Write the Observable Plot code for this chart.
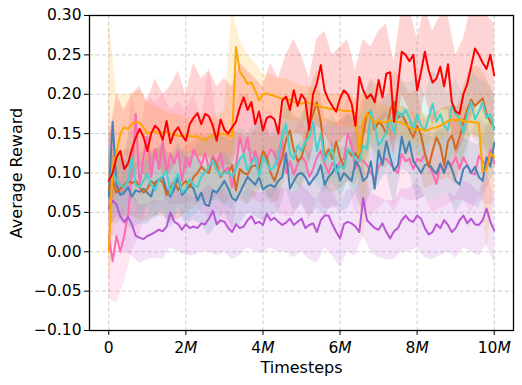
<!DOCTYPE html>
<html>
<head>
<meta charset="utf-8">
<script src="https://cdn.jsdelivr.net/npm/d3@7"></script>
<script src="https://cdn.jsdelivr.net/npm/@observablehq/plot@0.6"></script>
<style>
  html, body { margin: 0; padding: 0; background: #fff; }
  #chart { width: 522px; height: 385px; }
</style>
</head>
<body>
<div id="chart"></div>
<script>
// Timesteps (millions) for the mean curves
const steps = [0,0.1,0.2,0.3,0.4,0.5,0.6,0.7,0.8,0.9,1,1.1,1.2,1.3,1.4,1.5,1.6,1.7,1.8,1.9,2,2.1,2.2,2.3,2.4,2.5,2.6,2.7,2.8,2.9,3,3.1,3.2,3.3,3.4,3.5,3.6,3.7,3.8,3.9,4,4.1,4.2,4.3,4.4,4.5,4.6,4.7,4.8,4.9,5,5.1,5.2,5.3,5.4,5.5,5.6,5.7,5.8,5.9,6,6.1,6.2,6.3,6.4,6.5,6.6,6.7,6.8,6.9,7,7.1,7.2,7.3,7.4,7.5,7.6,7.7,7.8,7.9,8,8.1,8.2,8.3,8.4,8.5,8.6,8.7,8.8,8.9,9,9.1,9.2,9.3,9.4,9.5,9.6,9.7,9.8,9.9,10];
// Timesteps (millions) for the shaded bands
const bandSteps = [0,0.2,0.4,0.6,0.8,1,1.2,1.4,1.6,1.8,2,2.2,2.4,2.6,2.8,3,3.2,3.4,3.6,3.8,4,4.2,4.4,4.6,4.8,5,5.2,5.4,5.6,5.8,6,6.2,6.4,6.6,6.8,7,7.2,7.4,7.6,7.8,8,8.2,8.4,8.6,8.8,9,9.2,9.4,9.6,9.8,10];

const xTicks = [0, 2, 4, 6, 8, 10];
const yTicks = [-0.10, -0.05, 0.00, 0.05, 0.10, 0.15, 0.20, 0.25, 0.30];

// series keys (not colour words, so Plot maps them through the colour scale)
const seriesNames  = ["S-pink", "S-blue", "S-brown", "S-teal", "S-purple", "S-orange", "S-red"];
const seriesColors = ["#ff69b4", "#4682b4", "#d2691e", "#48d1cc", "#ba55d3", "#ffa500", "#ff0000"];

const redMean = [0.09,0.10,0.12,0.128,0.105,0.112,0.13,0.145,0.156,0.146,
0.128,0.15,0.16,0.155,0.142,0.166,0.138,0.152,0.158,0.148,
0.141,0.162,0.17,0.176,0.162,0.175,0.172,0.16,0.141,0.168,
0.155,0.15,0.158,0.165,0.183,0.196,0.18,0.19,0.162,0.178,
0.154,0.17,0.172,0.168,0.15,0.192,0.197,0.18,0.205,0.185,
0.2,0.193,0.155,0.2,0.214,0.237,0.205,0.193,0.185,0.178,
0.195,0.205,0.2,0.188,0.16,0.222,0.205,0.195,0.2,0.19,
0.218,0.196,0.226,0.228,0.165,0.21,0.254,0.25,0.242,0.25,
0.205,0.228,0.254,0.23,0.215,0.22,0.235,0.21,0.238,0.19,
0.178,0.175,0.2,0.213,0.235,0.258,0.25,0.24,0.232,0.25,
0.224];
const redLo = [0.05,0.08,0.07,0.09,0.11,0.09,0.12,0.1,0.1,0.12,0.1,0.12,0.12,0.12,0.1,0.11,0.11,0.14,0.13,0.12,0.11,0.13,0.11,0.15,0.15,0.15,0.11,0.16,0.15,0.13,0.14,0.15,0.11,0.15,0.15,0.16,0.17,0.12,0.2,0.18,0.15,0.2,0.16,0.18,0.18,0.12,0.14,0.17,0.19,0.17,0.16];
const redHi = [0.14,0.2,0.18,0.2,0.21,0.19,0.22,0.2,0.21,0.23,0.2,0.24,0.22,0.23,0.21,0.22,0.21,0.24,0.23,0.22,0.21,0.24,0.22,0.25,0.27,0.25,0.22,0.27,0.28,0.25,0.26,0.27,0.23,0.27,0.26,0.28,0.29,0.24,0.31,0.31,0.27,0.31,0.28,0.3,0.3,0.25,0.27,0.31,0.31,0.3,0.29];

const orangeMean = [0.0,0.108,0.125,0.15,0.158,0.156,0.162,0.165,0.164,0.158,
0.15,0.152,0.153,0.15,0.151,0.152,0.15,0.149,0.147,0.147,
0.148,0.147,0.146,0.147,0.143,0.142,0.145,0.148,0.149,0.15,
0.15,0.148,0.146,0.26,0.228,0.222,0.213,0.215,0.205,0.192,
0.2,0.201,0.199,0.198,0.196,0.195,0.194,0.193,0.19,0.19,
0.188,0.19,0.189,0.188,0.186,0.184,0.183,0.182,0.181,0.18,
0.18,0.179,0.179,0.178,0.176,0.125,0.165,0.176,0.17,0.164,
0.166,0.164,0.165,0.167,0.166,0.165,0.164,0.161,0.158,0.156,
0.155,0.156,0.154,0.155,0.157,0.158,0.16,0.163,0.166,0.168,
0.167,0.168,0.166,0.165,0.165,0.164,0.163,0.102,0.104,0.125,
0.12];
const orangeLo = [-0.06,0.08,0.12,0.125,0.125,0.115,0.12,0.12,0.125,0.12,0.125,0.125,0.12,0.12,0.125,0.125,0.12,0.19,0.18,0.175,0.175,0.175,0.17,0.168,0.165,0.165,0.167,0.165,0.163,0.16,0.16,0.158,0.155,0.01,0.14,0.145,0.145,0.148,0.145,0.14,0.135,0.135,0.14,0.14,0.148,0.15,0.148,0.145,0.145,0.0,0.08];
const orangeHi = [0.30,0.2,0.2,0.2,0.205,0.19,0.185,0.18,0.175,0.175,0.17,0.17,0.165,0.17,0.17,0.18,0.31,0.27,0.25,0.24,0.225,0.225,0.22,0.22,0.215,0.21,0.21,0.205,0.2,0.2,0.2,0.2,0.195,0.2,0.2,0.19,0.185,0.185,0.185,0.18,0.175,0.175,0.175,0.18,0.185,0.185,0.185,0.185,0.18,0.18,0.16];

const tealMean = [0.09,0.103,0.09,0.085,0.082,0.09,0.12,0.085,0.082,0.09,
0.099,0.085,0.078,0.092,0.096,0.103,0.073,0.09,0.099,0.075,
0.08,0.092,0.085,0.082,0.095,0.101,0.108,0.116,0.105,0.097,
0.1,0.102,0.095,0.106,0.118,0.124,0.103,0.112,0.12,0.095,
0.121,0.112,0.104,0.108,0.12,0.15,0.162,0.125,0.118,0.135,
0.128,0.14,0.145,0.165,0.128,0.15,0.115,0.125,0.13,0.1,
0.11,0.105,0.13,0.126,0.118,0.115,0.135,0.13,0.18,0.16,
0.135,0.142,0.152,0.17,0.15,0.178,0.172,0.18,0.17,0.154,
0.175,0.16,0.154,0.17,0.188,0.165,0.175,0.16,0.155,0.185,
0.175,0.17,0.15,0.175,0.19,0.168,0.178,0.19,0.17,0.175,
0.155];
const tealLo = [0.05,0.05,0.045,0.075,0.045,0.06,0.04,0.055,0.035,0.06,0.04,0.045,0.055,0.065,0.065,0.06,0.055,0.075,0.06,0.08,0.08,0.065,0.08,0.12,0.075,0.085,0.1,0.085,0.075,0.09,0.07,0.09,0.075,0.09,0.135,0.09,0.11,0.105,0.13,0.125,0.13,0.11,0.145,0.13,0.11,0.13,0.105,0.15,0.135,0.125,0.11];
const tealHi = [0.13,0.13,0.125,0.16,0.125,0.14,0.12,0.14,0.12,0.14,0.125,0.13,0.14,0.15,0.15,0.145,0.14,0.16,0.15,0.165,0.165,0.15,0.165,0.2,0.165,0.175,0.19,0.175,0.16,0.175,0.155,0.175,0.165,0.18,0.22,0.18,0.2,0.195,0.215,0.215,0.22,0.2,0.23,0.22,0.2,0.22,0.2,0.23,0.22,0.215,0.2];

const brownMean = [0.08,0.09,0.075,0.08,0.085,0.09,0.087,0.09,0.082,0.075,
0.08,0.09,0.085,0.092,0.088,0.072,0.08,0.09,0.078,0.085,
0.09,0.082,0.095,0.1,0.108,0.103,0.1,0.118,0.11,0.095,
0.102,0.1,0.11,0.078,0.105,0.1,0.098,0.108,0.11,0.105,
0.128,0.12,0.1,0.09,0.105,0.12,0.142,0.154,0.13,0.115,
0.12,0.138,0.16,0.175,0.19,0.165,0.12,0.13,0.118,0.14,
0.12,0.108,0.13,0.122,0.125,0.118,0.15,0.175,0.178,0.155,
0.165,0.16,0.15,0.18,0.19,0.17,0.175,0.165,0.155,0.145,
0.16,0.148,0.125,0.108,0.128,0.145,0.135,0.11,0.14,0.148,
0.13,0.145,0.165,0.18,0.193,0.185,0.19,0.195,0.175,0.165,
0.158];
const brownLo = [0.04,0.035,0.045,0.045,0.04,0.04,0.045,0.045,0.04,0.04,0.05,0.055,0.065,0.06,0.07,0.06,0.07,0.065,0.06,0.07,0.085,0.06,0.065,0.1,0.09,0.08,0.115,0.145,0.08,0.075,0.08,0.09,0.085,0.105,0.135,0.12,0.105,0.145,0.13,0.11,0.115,0.08,0.085,0.09,0.095,0.085,0.12,0.15,0.145,0.13,0.115];
const brownHi = [0.125,0.12,0.13,0.13,0.125,0.125,0.13,0.13,0.125,0.12,0.135,0.14,0.15,0.145,0.155,0.145,0.155,0.15,0.145,0.155,0.17,0.145,0.15,0.185,0.175,0.165,0.205,0.23,0.17,0.165,0.165,0.175,0.17,0.195,0.22,0.21,0.195,0.23,0.22,0.2,0.205,0.17,0.175,0.18,0.185,0.175,0.21,0.235,0.235,0.22,0.2];

const blueMean = [0.07,0.165,0.085,0.072,0.075,0.082,0.07,0.078,0.076,0.08,
0.075,0.07,0.088,0.092,0.095,0.078,0.07,0.08,0.095,0.072,
0.078,0.085,0.08,0.065,0.075,0.06,0.058,0.078,0.075,0.082,
0.09,0.08,0.068,0.065,0.075,0.085,0.095,0.09,0.085,0.095,
0.079,0.083,0.085,0.082,0.09,0.095,0.125,0.08,0.09,0.098,
0.1,0.095,0.085,0.092,0.098,0.11,0.085,0.095,0.1,0.11,
0.09,0.1,0.095,0.09,0.115,0.108,0.09,0.095,0.115,0.08,
0.129,0.11,0.14,0.12,0.103,0.11,0.146,0.125,0.14,0.115,
0.108,0.1,0.11,0.112,0.105,0.099,0.112,0.1,0.115,0.105,
0.09,0.085,0.105,0.11,0.1,0.108,0.095,0.09,0.12,0.108,
0.138];
const blueLo = [0.03,0.045,0.035,0.03,0.035,0.035,0.045,0.05,0.03,0.05,0.035,0.04,0.035,0.02,0.035,0.05,0.03,0.035,0.05,0.045,0.04,0.045,0.05,0.08,0.05,0.06,0.045,0.055,0.045,0.06,0.05,0.055,0.075,0.05,0.075,0.085,0.1,0.06,0.105,0.1,0.065,0.07,0.065,0.07,0.075,0.05,0.065,0.06,0.055,0.08,0.1];
const blueHi = [0.16,0.125,0.115,0.11,0.115,0.115,0.13,0.135,0.11,0.135,0.12,0.12,0.115,0.1,0.115,0.13,0.11,0.115,0.135,0.125,0.12,0.125,0.13,0.165,0.13,0.14,0.125,0.14,0.125,0.14,0.13,0.135,0.155,0.13,0.155,0.17,0.18,0.145,0.185,0.18,0.15,0.15,0.145,0.155,0.155,0.13,0.145,0.14,0.135,0.16,0.175];

const pinkMean = [0.02,-0.012,0.02,0.0,0.02,0.048,0.1,0.175,0.082,0.12,
0.146,0.095,0.13,0.105,0.141,0.1,0.125,0.112,0.128,0.09,
0.12,0.108,0.13,0.12,0.11,0.125,0.105,0.122,0.112,0.125,
0.1,0.108,0.082,0.11,0.145,0.125,0.145,0.112,0.128,0.11,
0.121,0.118,0.13,0.125,0.108,0.14,0.1,0.115,0.098,0.112,
0.12,0.115,0.095,0.105,0.12,0.128,0.112,0.1,0.113,0.105,
0.115,0.118,0.15,0.135,0.105,0.12,0.115,0.11,0.1,0.091,
0.108,0.116,0.118,0.112,0.105,0.1,0.124,0.115,0.118,0.105,
0.118,0.115,0.124,0.11,0.1,0.086,0.11,0.105,0.115,0.11,
0.12,0.105,0.12,0.11,0.1,0.098,0.122,0.115,0.11,0.13,
0.112];
const pinkLo = [-0.06,-0.065,-0.04,0.0,0.02,0.06,0.06,0.07,0.06,0.06,0.06,0.065,0.05,0.045,0.05,0.04,0.025,0.08,0.08,0.065,0.06,0.07,0.05,0.045,0.045,0.065,0.04,0.065,0.055,0.055,0.06,0.09,0.05,0.06,0.045,0.055,0.065,0.05,0.07,0.065,0.065,0.07,0.05,0.055,0.06,0.065,0.065,0.05,0.07,0.06,0.06];
const pinkHi = [0.2,0.08,0.1,0.2,0.15,0.2,0.19,0.2,0.18,0.19,0.18,0.2,0.17,0.235,0.17,0.16,0.14,0.2,0.2,0.18,0.17,0.18,0.16,0.15,0.15,0.17,0.145,0.17,0.16,0.16,0.165,0.2,0.155,0.165,0.15,0.155,0.165,0.155,0.17,0.165,0.165,0.17,0.15,0.16,0.165,0.17,0.17,0.15,0.17,0.16,0.16];

const purpleMean = [0.055,0.065,0.06,0.045,0.038,0.044,0.035,0.02,0.018,0.016,
0.02,0.022,0.025,0.028,0.026,0.032,0.05,0.038,0.035,0.028,
0.035,0.03,0.032,0.03,0.036,0.035,0.042,0.052,0.035,0.04,
0.038,0.03,0.025,0.035,0.03,0.032,0.04,0.045,0.036,0.038,
0.034,0.048,0.04,0.043,0.038,0.034,0.037,0.042,0.034,0.038,
0.042,0.03,0.034,0.036,0.025,0.04,0.046,0.046,0.035,0.025,
0.017,0.035,0.038,0.036,0.032,0.025,0.068,0.04,0.035,0.03,
0.028,0.036,0.025,0.017,0.026,0.03,0.04,0.046,0.04,0.038,
0.046,0.042,0.03,0.022,0.025,0.035,0.03,0.04,0.034,0.025,
0.03,0.04,0.046,0.036,0.042,0.035,0.034,0.04,0.055,0.038,
0.027];
const purpleLo = [0.02,0.02,0.0,-0.005,-0.015,-0.01,-0.008,-0.01,0.005,0.0,-0.005,-0.005,0.0,0.0,-0.005,0.0,-0.01,-0.005,0.005,0.0,-0.002,0.005,0.0,0.0,-0.008,0.0,-0.01,-0.015,0.005,-0.005,-0.02,0.0,-0.005,0.02,0.0,-0.008,-0.01,-0.01,0.0,0.0,0.005,-0.008,-0.01,-0.005,0.0,-0.008,0.005,0.0,-0.005,0.01,-0.015];
const purpleHi = [0.09,0.1,0.08,0.075,0.06,0.06,0.065,0.065,0.09,0.075,0.075,0.07,0.075,0.085,0.075,0.08,0.065,0.07,0.08,0.075,0.075,0.08,0.08,0.08,0.075,0.085,0.075,0.065,0.09,0.075,0.06,0.08,0.075,0.11,0.075,0.07,0.065,0.065,0.08,0.08,0.09,0.07,0.065,0.07,0.075,0.07,0.09,0.085,0.075,0.1,0.07];

// assemble (draw order = seriesNames order)
const seriesArrays = [
  [pinkMean, pinkLo, pinkHi],
  [blueMean, blueLo, blueHi],
  [brownMean, brownLo, brownHi],
  [tealMean, tealLo, tealHi],
  [purpleMean, purpleLo, purpleHi],
  [orangeMean, orangeLo, orangeHi],
  [redMean, redLo, redHi]
];
const lineRows = seriesNames.flatMap((s, k) => steps.map((t, i) => ({series: s, t, v: seriesArrays[k][0][i]})));
const bandRows = seriesNames.flatMap((s, k) => bandSteps.map((t, i) => ({series: s, t, lo: seriesArrays[k][1][i], hi: seriesArrays[k][2][i]})));

const FONT = "DejaVu Sans";
const chart = Plot.plot({
  width: 522,
  height: 385,
  marginLeft: 89,
  marginRight: 9,
  marginTop: 15,
  marginBottom: 55,
  style: {fontFamily: FONT, fontSize: "15.5px", color: "black", background: "white", overflow: "visible"},
  x: {domain: [-0.5, 10.5]},
  y: {domain: [-0.10, 0.30]},
  color: {type: "ordinal", domain: seriesNames, range: seriesColors},
  marks: [
    Plot.gridX(xTicks, {stroke: "#b0b0b0", strokeOpacity: 0.8, strokeDasharray: "4,2.5", strokeWidth: 0.8}),
    Plot.gridY(yTicks, {stroke: "#b0b0b0", strokeOpacity: 0.8, strokeDasharray: "4,2.5", strokeWidth: 0.8}),
    Plot.areaY(bandRows, {x: "t", y1: "lo", y2: "hi", z: "series", fill: "series", fillOpacity: 0.17, clip: true}),
    Plot.line(lineRows, {x: "t", y: "v", z: "series", stroke: "series", strokeWidth: 2, clip: true}),
    Plot.frame({stroke: "black", strokeWidth: 1.3}),
    Plot.axisY({ticks: yTicks, tickFormat: d3.format(".2f"), tickSize: 5, tickPadding: 3, label: null, fontSize: 15.5}),
    Plot.axisX({ticks: xTicks, tickFormat: d => d === 0 ? "0" : d + "M", tickSize: 5, tickPadding: 6, label: null, fontSize: 15.5}),
    Plot.text(["Average Reward"], {frameAnchor: "left", dx: -72.5, rotate: -90, text: d => d, fontSize: 16, lineAnchor: "middle", textAnchor: "middle", fill: "black"}),
    Plot.text(["Timesteps"], {frameAnchor: "bottom", dy: 37.5, text: d => d, fontSize: 16, lineAnchor: "middle", textAnchor: "middle", fill: "black"})
  ]
});
document.getElementById("chart").appendChild(chart);

// italic "M" in x tick labels (mathtext style)
d3.select(chart).selectAll('[aria-label="x-axis tick label"] text').each(function () {
  const s = this.textContent;
  if (s.endsWith("M")) {
    const sel = d3.select(this);
    sel.text(null);
    sel.append("tspan").text(s.slice(0, -1));
    sel.append("tspan").attr("font-style", "italic").text("M");
  }
});
</script>
</body>
</html>
